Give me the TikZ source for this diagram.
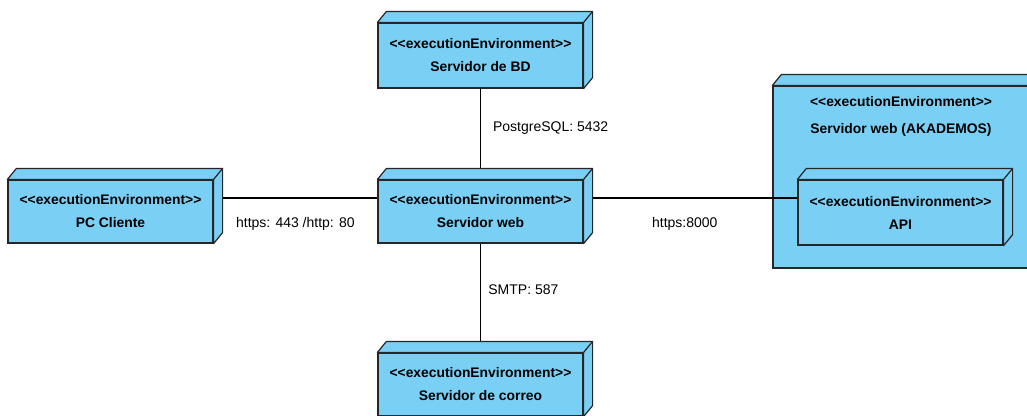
\documentclass[tikz,border=0pt]{standalone}
\usepackage{fontspec}
\setmainfont{Liberation Sans}
\usepackage{tikz}
\usetikzlibrary{positioning}

\definecolor{envblue}{RGB}{122,207,245}
\newcommand{\stereo}{{<}{<}executionEnvironment{>}{>}}

\tikzset{
  envbox/.style={draw=black!85,line width=0.9pt,fill=envblue,align=center,
     minimum width=153.75pt,minimum height=48.75pt,inner sep=0pt,
     font=\fontsize{10.4}{17.25}\selectfont\bfseries},
  envface/.style={draw=black!85,line width=0.9pt,fill=envblue,line join=round},
  lbl/.style={font=\fontsize{10.5}{12}\selectfont,inner sep=1pt}
}

\begin{document}
\begin{tikzpicture}[x=0.75pt,y=-0.75pt]
  \useasboundingbox (0,0) rectangle (1027,415);
  \clip (0,0) rectangle (1027,415);

  % outer environment
  \node[envbox,minimum width=202.5pt,minimum height=136.5pt] (akademos) at (908,177) {};
  \node[font=\fontsize{10.4}{20}\selectfont\bfseries,align=center] (akatitle)
       at (901,116.5) {\stereo\\Servidor web (AKADEMOS)};

  % nodes
  \node[envbox] (bd) at (480.5,55.5) {\stereo\\Servidor de BD};
  \node[envbox,minimum height=47.25pt] (pc) at (110.5,211.5) {\stereo\\PC Cliente};
  \node[envbox,minimum height=47.25pt] (web) at (480.5,211.5) {\stereo\\Servidor web};
  \node[envbox,minimum height=47.25pt] (correo) at (480.5,384.5) {\stereo\\Servidor de correo};
  \node[envbox] (api) at (900.5,212.5) {\stereo\\API};

  % 3d faces
  \foreach \n in {akademos,bd,pc,web,correo,api}{
    \draw[envface] (\n.north west) -- ++(9,-11) -- ([shift={(9,-11)}]\n.north east)
        -- ([shift={(9,-11)}]\n.south east) -- (\n.south east) -- (\n.north east) -- cycle;
    \draw[envface] (\n.north east) -- ++(9,-11);
  }

  % connectors
  \draw[line width=0.8pt] (bd.south) -- ([yshift=8.25pt]web.north)
       node[lbl,pos=0.5,anchor=west,xshift=8pt] {PostgreSQL: 5432};
  \draw[line width=0.8pt] ([shift={(9,-13.5)}]pc.east) -- ([yshift=10.125pt]web.west)
       node[lbl,pos=0.47,anchor=north,yshift=-13pt] {https: 443 /http: 80};
  \draw[line width=0.8pt] ([shift={(9,-13.5)}]web.east) -- ([yshift=10.875pt]api.west)
       node[lbl,pos=0.45,anchor=north,yshift=-13pt] {https:8000};
  \draw[line width=0.8pt] (web.south) -- ([yshift=8.25pt]correo.north)
       node[lbl,pos=0.47,anchor=west,xshift=4.5pt] {SMTP: 587};
\end{tikzpicture}
\end{document}
